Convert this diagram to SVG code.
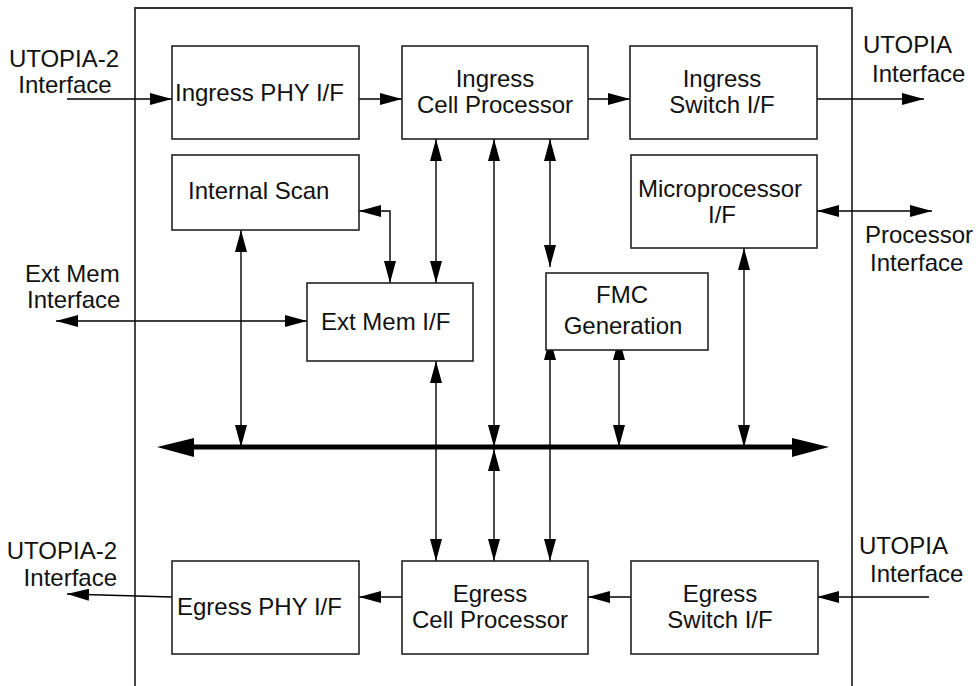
<svg xmlns="http://www.w3.org/2000/svg" width="978" height="686" viewBox="0 0 978 686">
<style>
.bg{fill:#fff}
.box{fill:#fff;stroke:#222;stroke-width:1.6}
.frame{fill:none;stroke:#333;stroke-width:1.8}
.c{fill:none;stroke:#000;stroke-width:1.4}
.t{font-family:"Liberation Sans",Arial,Helvetica,sans-serif;font-size:24px;fill:#111}
.m{text-anchor:middle}
.e{text-anchor:end}
.bus{stroke:#000;stroke-width:5;fill:none}
</style>
<defs>
<marker id="a" markerUnits="userSpaceOnUse" markerWidth="22" markerHeight="12" refX="22" refY="6" orient="auto-start-reverse" viewBox="0 0 22 12">
<path d="M0,0 L22,6 L0,12 z" fill="#000"/>
</marker>
</defs>
<rect class="bg" x="0" y="0" width="978" height="686"/>
<path id="frame" class="frame" d="M135,686 V8 H852 V686"/>

<g id="bus">
<line class="bus" x1="190" y1="447" x2="795" y2="447"/>
<polygon points="157,447 194,438 194,457" fill="#000"/>
<polygon points="829,447 792,438 792,457" fill="#000"/>
</g>

<g id="connectors">
<path class="c" d="M67,99 H172" marker-end="url(#a)"/>
<path class="c" d="M359,99 H402" marker-end="url(#a)"/>
<path class="c" d="M588,99 H630" marker-end="url(#a)"/>
<path class="c" d="M817,99 H924" marker-end="url(#a)"/>
<path class="c" d="M817,211 H932" marker-start="url(#a)" marker-end="url(#a)"/>
<path class="c" d="M359,211 H390 V283" marker-start="url(#a)" marker-end="url(#a)"/>
<path class="c" d="M56,321 H307" marker-start="url(#a)" marker-end="url(#a)"/>
<path class="c" d="M241,230 V447" marker-start="url(#a)" marker-end="url(#a)"/>
<path class="c" d="M436,139 V283" marker-start="url(#a)" marker-end="url(#a)"/>
<path class="c" d="M494,139 V447" marker-start="url(#a)" marker-end="url(#a)"/>
<path class="c" d="M494,449 V561" marker-start="url(#a)" marker-end="url(#a)"/>
<path class="c" d="M550,139 V267" marker-start="url(#a)" marker-end="url(#a)"/>
<path class="c" d="M619,338 V447" marker-start="url(#a)" marker-end="url(#a)"/>
<path class="c" d="M744,248 V447" marker-start="url(#a)" marker-end="url(#a)"/>
<path class="c" d="M436,361 V561" marker-start="url(#a)" marker-end="url(#a)"/>
<path class="c" d="M550,338 V561" marker-start="url(#a)" marker-end="url(#a)"/>
<path class="c" d="M929,597 H817" marker-end="url(#a)"/>
<path class="c" d="M631,597 H588" marker-end="url(#a)"/>
<path class="c" d="M402,597 H359" marker-end="url(#a)"/>
<path class="c" d="M172,597 L67,594" marker-end="url(#a)"/>
</g>

<g id="ingress_phy"><rect class="box" x="172" y="46" width="187" height="93"/><text class="t" x="175" y="101">Ingress PHY I/F</text></g>
<g id="ingress_cell"><rect class="box" x="402" y="46" width="186" height="93"/><text class="t m" x="495" y="87">Ingress</text><text class="t m" x="495" y="113">Cell Processor</text></g>
<g id="ingress_switch"><rect class="box" x="630" y="46" width="187" height="93"/><text class="t m" x="722" y="87">Ingress</text><text class="t m" x="722" y="113">Switch I/F</text></g>
<g id="internal_scan"><rect class="box" x="172" y="155" width="187" height="75"/><text class="t" x="188" y="199">Internal Scan</text></g>
<g id="microprocessor"><rect class="box" x="631" y="155" width="186" height="93"/><text class="t m" x="720" y="197">Microprocessor</text><text class="t m" x="722" y="223">I/F</text></g>
<g id="fmc"><rect class="box" x="546" y="273" width="162" height="77"/><text class="t m" x="622" y="303">FMC</text><text class="t m" x="623" y="334">Generation</text></g>
<g id="ext_mem"><rect class="box" x="307" y="283" width="166" height="78"/><text class="t" x="321" y="330">Ext Mem I/F</text></g>
<g id="egress_phy"><rect class="box" x="172" y="561" width="187" height="93"/><text class="t" x="177" y="615">Egress PHY I/F</text></g>
<g id="egress_cell"><rect class="box" x="402" y="561" width="186" height="93"/><text class="t m" x="490" y="602">Egress</text><text class="t m" x="490" y="628">Cell Processor</text></g>
<g id="egress_switch"><rect class="box" x="631" y="561" width="187" height="93"/><text class="t m" x="720" y="602">Egress</text><text class="t m" x="720" y="628">Switch I/F</text></g>

<g id="labels">
<text class="t m" x="64" y="67">UTOPIA-2</text>
<text class="t m" x="65" y="93">Interface</text>
<text class="t" x="863" y="53">UTOPIA</text>
<text class="t" x="872" y="82">Interface</text>
<text class="t" x="865" y="243">Processor</text>
<text class="t" x="870" y="271">Interface</text>
<text class="t" x="25" y="282">Ext Mem</text>
<text class="t" x="27" y="308">Interface</text>
<text class="t e" x="117" y="559">UTOPIA-2</text>
<text class="t e" x="117" y="586">Interface</text>
<text class="t" x="859" y="554">UTOPIA</text>
<text class="t" x="870" y="582">Interface</text>
</g>
</svg>
